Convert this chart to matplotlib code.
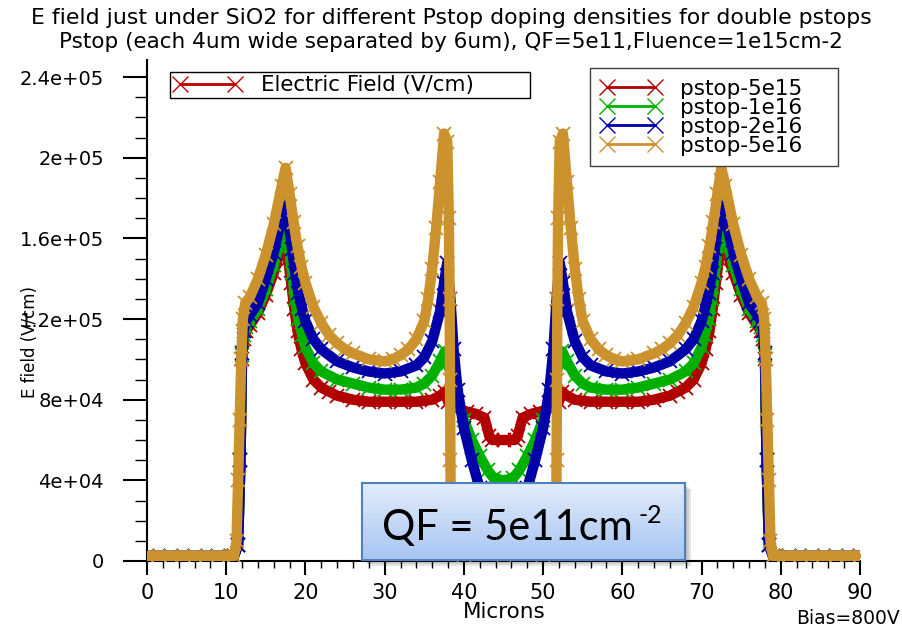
import matplotlib
matplotlib.use('Agg')
import numpy as np
import matplotlib.pyplot as plt
from matplotlib.lines import Line2D
from matplotlib.patches import Rectangle
from matplotlib.colors import LinearSegmentedColormap
from matplotlib.ticker import MultipleLocator, FuncFormatter

# ── Data ──────────────────────────────────────────────────────────────────────
x_red = [0, 3, 6, 9, 11, 11.5, 11.8, 12.0, 12.2, 12.5, 13, 14, 15, 16, 17, 17.4,
         17.8, 18.2, 18.6, 19, 19.5, 20, 21, 22, 23, 24, 26, 28, 30, 32, 34, 36,
         37, 37.6, 38, 39, 40.4, 41.5, 42.6, 43.2, 43.6, 45, 46.4, 46.8, 47.4,
         48.5, 49.6, 51, 52, 52.4, 53, 54, 56, 58, 60, 62, 64, 66, 67, 68, 69,
         70, 70.5, 71, 71.4, 71.8, 72.2, 72.6, 73, 74, 75, 76, 77, 77.5, 77.8,
         78.0, 78.2, 78.5, 79, 81, 84, 87, 90]
e_red = [2.5e3, 2.5e3, 2.5e3, 2.5e3, 2.5e3, 8e3, 5e4, 1.0e5, 1.1e5, 1.14e5,
         1.17e5, 1.23e5, 1.32e5, 1.43e5, 1.56e5, 1.62e5, 1.5e5, 1.38e5, 1.25e5,
         1.14e5, 1.05e5, 9.8e4, 9.0e4, 8.6e4, 8.4e4, 8.2e4, 8.0e4, 7.9e4, 7.9e4,
         7.9e4, 7.9e4, 8.0e4, 8.2e4, 8.4e4, 7.9e4, 7.6e4, 7.4e4, 7.3e4, 7.1e4,
         6.2e4, 6.0e4, 6.0e4, 6.0e4, 6.2e4, 7.1e4, 7.3e4, 7.4e4, 7.6e4, 7.9e4,
         8.4e4, 8.2e4, 8.0e4, 7.9e4, 7.9e4, 7.9e4, 7.9e4, 8.0e4, 8.2e4, 8.4e4,
         8.6e4, 9.0e4, 9.8e4, 1.05e5, 1.14e5, 1.25e5, 1.38e5, 1.5e5, 1.62e5,
         1.56e5, 1.43e5, 1.32e5, 1.23e5, 1.17e5, 1.14e5, 1.1e5, 1.0e5, 5e4, 8e3,
         2.5e3, 2.5e3, 2.5e3, 2.5e3, 2.5e3]

x_green = [0, 3, 6, 9, 11, 11.5, 11.8, 12.0, 12.2, 12.5, 13, 14, 15, 16, 17, 17.5,
           17.9, 18.3, 18.7, 19.1, 19.6, 20, 21, 22, 24, 26, 28, 30, 32, 34, 35,
           36, 37, 37.6, 38, 38.5, 39, 40, 41, 42, 43, 43.8, 45, 46.2, 47, 48, 49,
           50, 51, 51.5, 52, 52.4, 53, 54, 55, 56, 58, 60, 62, 64, 66, 68, 69, 70,
           70.4, 70.9, 71.3, 71.7, 72.1, 72.5, 73, 74, 75, 76, 77, 77.5, 77.8,
           78.0, 78.2, 78.5, 79, 81, 84, 87, 90]
e_green = [2.5e3, 2.5e3, 2.5e3, 2.5e3, 2.5e3, 8e3, 5e4, 1.02e5, 1.12e5, 1.16e5,
           1.19e5, 1.25e5, 1.35e5, 1.47e5, 1.62e5, 1.69e5, 1.56e5, 1.43e5, 1.3e5,
           1.2e5, 1.12e5, 1.06e5, 9.8e4, 9.4e4, 9.0e4, 8.8e4, 8.6e4, 8.5e4, 8.5e4,
           8.6e4, 8.8e4, 9.2e4, 9.9e4, 1.04e5, 9.8e4, 9.0e4, 8.2e4, 7.0e4, 6.0e4,
           5.2e4, 4.5e4, 4.1e4, 4.0e4, 4.1e4, 4.5e4, 5.2e4, 6.0e4, 7.0e4, 8.2e4,
           9.0e4, 9.8e4, 1.04e5, 9.9e4, 9.2e4, 8.8e4, 8.6e4, 8.5e4, 8.5e4, 8.6e4,
           8.8e4, 9.0e4, 9.4e4, 9.8e4, 1.06e5, 1.12e5, 1.2e5, 1.3e5, 1.43e5,
           1.56e5, 1.69e5, 1.62e5, 1.47e5, 1.35e5, 1.25e5, 1.19e5, 1.16e5, 1.12e5,
           1.02e5, 5e4, 8e3, 2.5e3, 2.5e3, 2.5e3, 2.5e3, 2.5e3]

x_blue = [0, 3, 6, 9, 11, 11.5, 11.8, 12.0, 12.2, 12.5, 13, 14, 15, 16, 17, 17.5,
          17.9, 18.3, 18.7, 19.1, 19.6, 20, 21, 22, 24, 26, 28, 30, 32, 34, 35, 36,
          37, 37.5, 37.9, 38.3, 38.7, 39.2, 40, 41, 42, 43, 44, 45, 46, 47, 48, 49,
          50, 50.8, 51.3, 51.7, 52.1, 52.5, 53, 54, 55, 56, 58, 60, 62, 64, 66, 68,
          69, 70, 70.4, 70.9, 71.3, 71.7, 72.1, 72.5, 73, 74, 75, 76, 77, 77.5,
          77.8, 78.0, 78.2, 78.5, 79, 81, 84, 87, 90]
e_blue = [2.5e3, 2.5e3, 2.5e3, 2.5e3, 2.5e3, 8e3, 5e4, 1.03e5, 1.14e5, 1.19e5,
          1.22e5, 1.28e5, 1.4e5, 1.53e5, 1.7e5, 1.8e5, 1.68e5, 1.55e5, 1.43e5,
          1.33e5, 1.25e5, 1.19e5, 1.1e5, 1.05e5, 9.9e4, 9.6e4, 9.4e4, 9.3e4,
          9.4e4, 9.7e4, 1.01e5, 1.09e5, 1.24e5, 1.38e5, 1.48e5, 1.3e5, 1.05e5,
          8.5e4, 6.6e4, 5.0e4, 3.6e4, 2.6e4, 2.1e4, 2.0e4, 2.1e4, 2.6e4, 3.6e4,
          5.0e4, 6.6e4, 8.5e4, 1.05e5, 1.3e5, 1.48e5, 1.38e5, 1.24e5, 1.09e5,
          1.01e5, 9.7e4, 9.4e4, 9.3e4, 9.4e4, 9.6e4, 9.9e4, 1.05e5, 1.1e5, 1.19e5,
          1.25e5, 1.33e5, 1.43e5, 1.55e5, 1.68e5, 1.8e5, 1.7e5, 1.53e5, 1.4e5,
          1.28e5, 1.22e5, 1.19e5, 1.14e5, 1.03e5, 5e4, 8e3, 2.5e3, 2.5e3, 2.5e3,
          2.5e3, 2.5e3]

x_gold = [0, 3, 6, 9, 11, 11.3, 11.5, 11.7, 11.9, 12.1, 12.4, 13, 14, 15, 16, 17,
          17.5, 18, 18.5, 19, 19.5, 20, 21, 22, 23, 24, 25, 26, 28, 30, 31, 32, 33,
          34, 35, 35.5, 36, 36.5, 37, 37.5, 37.9, 38.1, 38.2, 38.25, 38.3, 38.35,
          38.5, 40, 45, 50, 51.5, 51.65, 51.7, 51.75, 51.8, 51.9, 52.1, 52.5, 53,
          53.5, 54, 54.5, 55, 56, 57, 58, 59, 60, 62, 64, 65, 66, 67, 68, 69, 70,
          70.5, 71, 71.5, 72, 72.5, 73, 74, 75, 76, 77, 77.6, 77.9, 78.1, 78.3,
          78.5, 78.7, 79, 81, 84, 87, 90]
e_gold = [2.5e3, 2.5e3, 2.5e3, 2.5e3, 2.5e3, 1e4, 4e4, 7e4, 1.0e5, 1.2e5, 1.28e5,
          1.31e5, 1.4e5, 1.52e5, 1.67e5, 1.86e5, 1.95e5, 1.82e5, 1.68e5, 1.56e5,
          1.46e5, 1.38e5, 1.26e5, 1.18e5, 1.12e5, 1.08e5, 1.05e5, 1.03e5, 1.0e5,
          9.9e4, 1.0e5, 1.02e5, 1.05e5, 1.1e5, 1.19e5, 1.3e5, 1.45e5, 1.65e5,
          1.88e5, 2.12e5, 2.08e5, 1.7e5, 1.3e5, 9e4, 5e4, 2e4, 4e3, 3e3, 3e3, 3e3,
          4e3, 2e4, 5e4, 9e4, 1.3e5, 1.7e5, 2.08e5, 2.12e5, 1.88e5, 1.65e5, 1.45e5,
          1.3e5, 1.19e5, 1.1e5, 1.05e5, 1.02e5, 1.0e5, 9.9e4, 1.0e5, 1.03e5,
          1.05e5, 1.08e5, 1.12e5, 1.18e5, 1.26e5, 1.38e5, 1.46e5, 1.56e5, 1.68e5,
          1.82e5, 1.95e5, 1.86e5, 1.67e5, 1.52e5, 1.4e5, 1.31e5, 1.28e5, 1.2e5,
          1.0e5, 7e4, 4e4, 1e4, 2.5e3, 2.5e3, 2.5e3, 2.5e3, 2.5e3]

series = [('pstop-5e15', x_red, e_red, '#B00000'),
          ('pstop-1e16', x_green, e_green, '#00B000'),
          ('pstop-2e16', x_blue, e_blue, '#0000A8'),
          ('pstop-5e16', x_gold, e_gold, '#CC922E')]

title_lines = ['E field just under SiO2 for different Pstop doping densities for double pstops',
               'Pstop (each 4um wide separated by 6um), QF=5e11,Fluence=1e15cm-2']

# ── Figure ────────────────────────────────────────────────────────────────────
W, H = 902, 629
fig = plt.figure(figsize=(W / 100, H / 100), dpi=100)
ax = fig.add_axes([147 / W, 68 / H, 713 / W, 501 / H])

for i, (name, xs, es, col) in enumerate(series):
    ax.plot(xs, es, color=col, lw=7.5, marker='x', ms=10, mew=1.3,
            solid_joinstyle='round', solid_capstyle='round', zorder=2 + i)

ax.set_xlim(0, 90)
ax.set_ylim(0, 2.485e5)
ax.xaxis.set_major_locator(MultipleLocator(10))
ax.xaxis.set_minor_locator(MultipleLocator(2))
ax.yaxis.set_major_locator(MultipleLocator(4e4))
ax.yaxis.set_minor_locator(MultipleLocator(1e4))
ax.yaxis.set_major_formatter(FuncFormatter(lambda v, p: format(v, '.2g')))

for s in ('top', 'right'):
    ax.spines[s].set_visible(False)
for s in ('left', 'bottom'):
    ax.spines[s].set_linewidth(1.5)

ax.tick_params(axis='y', which='major', direction='out', length=17, width=1.5,
               pad=14, labelsize=14)
ax.tick_params(axis='y', which='minor', direction='out', length=8.5, width=1)
ax.tick_params(axis='x', which='major', direction='out', length=10, width=1.5,
               pad=6, labelsize=15)
ax.tick_params(axis='x', which='minor', direction='out', length=5, width=1)

# ── Texts ─────────────────────────────────────────────────────────────────────
fig.text(0.5, 1 - 18 / H, title_lines[0], ha='center', va='center', fontsize=15.8)
fig.text(0.5, 1 - 42 / H, title_lines[1], ha='center', va='center', fontsize=15.5)
fig.text(504 / W, 1 - 612 / H, 'Microns', ha='center', va='center', fontsize=15.5)
fig.text(900 / W, 1 - 618 / H, 'Bias=800V', ha='right', va='center', fontsize=13.5)
fig.text(30 / W, 1 - 342 / H, 'E field (V/cm)', rotation=90, ha='center',
         va='center', fontsize=12)

# ── Legends ───────────────────────────────────────────────────────────────────
h1 = [Line2D([], [], color='#C00000', lw=2, marker='x', ms=11, mew=1)]
leg1 = ax.legend(h1, ['Electric Field (V/cm)'], loc='upper left',
                 bbox_to_anchor=(170 / W, 1 - 103 / H, 360 / W, 31 / H),
                 bbox_transform=fig.transFigure, mode='expand', numpoints=2,
                 handlelength=3.2, fontsize=15.4, fancybox=False, edgecolor='black',
                 framealpha=1, borderaxespad=0, borderpad=0.15, handletextpad=0.9)
leg1.get_frame().set_linewidth(1)
ax.add_artist(leg1)

h2 = [Line2D([], [], color=c, lw=2, marker='x', ms=11, mew=1) for _, _, _, c in series]
leg2 = ax.legend(h2, [n for n, _, _, _ in series], loc='upper left',
                 bbox_to_anchor=(590 / W, 1 - 162 / H, 248 / W, 94 / H),
                 bbox_transform=fig.transFigure, mode='expand', numpoints=2,
                 handlelength=2.8, fontsize=15.5, fancybox=False, edgecolor='#404040',
                 framealpha=1, borderaxespad=0, borderpad=0.5, labelspacing=-0.05,
                 handletextpad=0.9)
leg2.get_frame().set_linewidth(1)

# ── QF box ────────────────────────────────────────────────────────────────────
bx, by, bw, bh = 362, 69, 323, 77
for k, a in enumerate([0.10, 0.10, 0.10]):
    off = 2 + 2 * k
    fig.add_artist(Rectangle(((bx + off) / W, (by - off) / H), bw / W, bh / H,
                             transform=fig.transFigure, facecolor='black',
                             edgecolor='none', alpha=a, zorder=4))
ax_box = fig.add_axes([bx / W, by / H, bw / W, bh / H], zorder=5)
grad = np.linspace(0, 1, 100).reshape(-1, 1)
cmap = LinearSegmentedColormap.from_list('qf', ['#A7C5F2', '#E2ECFB'])
ax_box.imshow(grad, aspect='auto', cmap=cmap, origin='lower', extent=[0, 1, 0, 1])
ax_box.set_xticks([])
ax_box.set_yticks([])
ax_box.set_xlim(0, 1)
ax_box.set_ylim(0, 1)
for s in ax_box.spines.values():
    s.set_color('#4F81BD')
    s.set_linewidth(1.5)
ax_box.text((382 - bx) / bw, (560 - 540) / bh, 'QF = 5e11cm', family='Lato',
            fontsize=30, ha='left', va='baseline', transform=ax_box.transAxes)
ax_box.text((639 - bx) / bw, (560 - 523) / bh, '-2', family='Lato',
            fontsize=18, ha='left', va='baseline', transform=ax_box.transAxes)

fig.savefig('out.png', dpi=100)
